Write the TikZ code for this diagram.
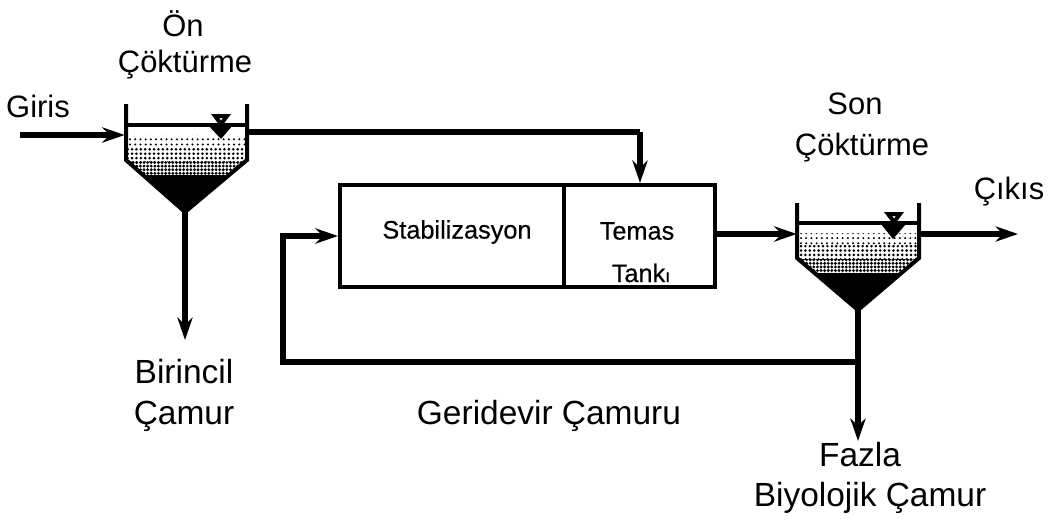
\documentclass[tikz,border=0pt]{standalone}
\usepackage{fontspec}
\setmainfont{Liberation Sans}
\usetikzlibrary{arrows.meta, patterns.meta, positioning}
\tikzstyle{pipe} = [line width=1.4mm, -{Stealth[length=5.6mm, width=3.8mm]}]
\tikzstyle{plainpipe} = [line width=1.4mm]
\tikzstyle{wall} = [line width=1mm]
\tikzstyle{tankbox} = [rectangle, draw=black, line width=1mm, minimum height=2.55cm, inner sep=0pt]
\tikzstyle{tanknode} = [rectangle, minimum width=3.05cm, minimum height=1cm, inner sep=0pt]
\tikzstyle{label} = [inner sep=0pt, font={\fontsize{22pt}{24}\selectfont}]
\tikzstyle{widelabel} = [inner sep=0pt, font={\fontsize{23.8pt}{24}\selectfont}]
\tikzstyle{tanklabel} = [inner sep=0pt, font={\fontsize{18pt}{20}\selectfont\addfontfeature{FakeBold=0.4}}]
\tikzstyle{dotslight} = [pattern={Dots[distance=1.3mm, radius=0.28mm]}, pattern color=black]
\tikzstyle{dotsmid} = [pattern={Dots[distance=1.1mm, radius=0.36mm]}, pattern color=black]
\tikzstyle{dotsdark} = [pattern={Dots[distance=0.9mm, radius=0.4mm]}, pattern color=black]
\tikzstyle{gauge} = [line width=1mm, draw=black]
\begin{document}
\begin{tikzpicture}[x=0.025cm, y=-0.025cm]
    \useasboundingbox (0,0) rectangle (1062,519);

    % settling tanks
    \node (first) [tanknode] at (186,135) {};
    \node (last) [tanknode] at (858,234) {};
    \coordinate (firstapex) at (185,212);
    \coordinate (lastapex) at (858,310);

    \begin{scope}
    \clip (126,125) -- (126,160) -- (firstapex) -- (247,160) -- (247,125) -- cycle;
    \fill [dotslight] (126,135) rectangle (247,147);
    \fill [dotsmid] (126,147) rectangle (247,161);
    \fill [dotsdark] (126,161) rectangle (247,175);
    \fill (126,175) rectangle (247,212);
    \end{scope}
    \draw [wall] (126,104) -- (126,160) -- (firstapex) -- (247,160) -- (247,104);
    \draw [line width=0.8mm] (126,125) -- (247,125);
    \draw [gauge] (215,116) -- (227,116) -- (221,124) -- cycle;
    \fill (208,125) -- (233,125) -- (221,139) -- cycle;

    \begin{scope}
    \clip (797,223) -- (797,258) -- (lastapex) -- (919,258) -- (919,223) -- cycle;
    \fill [dotslight] (797,233) rectangle (919,245);
    \fill [dotsmid] (797,245) rectangle (919,259);
    \fill [dotsdark] (797,259) rectangle (919,273);
    \fill (797,273) rectangle (919,310);
    \end{scope}
    \draw [wall] (797,203) -- (797,258) -- (lastapex) -- (919,258) -- (919,203);
    \draw [line width=0.8mm] (797,223) -- (919,223);
    \draw [gauge] (888,214) -- (900,214) -- (894,222) -- cycle;
    \fill (881,224) -- (906,224) -- (893,239) -- cycle;

    % basin
    \node (stab) [tankbox, minimum width=5.6cm] at (452,236) {};
    \node (temas) [tankbox, minimum width=3.75cm] at (639.5,236) {};

    \coordinate (inlet) at (20,135);
    \coordinate (corner) at (640,132);
    \coordinate (firstout) at (185,340);
    \coordinate (lastout) at (1018,234);
    \coordinate (branch) at (858,362);
    \coordinate (wasteout) at (858,441);
    \coordinate (returnlow) at (283,362);
    \coordinate (returnup) at (283,236);

    \draw [pipe] (inlet) -- (first.west);
    \draw [plainpipe] (247,132) -- (corner);
    \draw [pipe] (corner) -- (temas.north -| corner);
    \draw [pipe] (firstapex) -- (firstout);
    \draw [pipe] (temas.east |- last.west) -- (last.west);
    \draw [pipe] (last.east) -- (lastout);
    \draw [pipe] (lastapex) -- (wasteout);
    \draw [pipe] (branch) -- (returnlow) -- (returnup) -- (stab.west);

    \node (onlabel) [label] at (183,24) {Ön};
    \node (oncok) [label] at (185,65) {Çöktürme};
    \node (girislabel) [label] at (38,106) {Giris};
    \node (sonlabel) [label] at (855,104) {Son};
    \node (soncok) [label] at (862,148) {Çöktürme};
    \node (cikislabel) [label] at (1009,192) {Çıkıs};
    \node (stablabel) [tanklabel] at (457,232) {Stabilizasyon};
    \node (temaslabel) [tanklabel] at (637,231) {Temas};
    \node (tanklabel) [tanklabel] at (641,273) {Tank{\fontsize{13pt}{14}\selectfont ı}};
    \node (birincil) [widelabel] at (184,372) {Birincil};
    \node (birincilcamur) [widelabel] at (184,416) {Çamur};
    \node (geridevir) [widelabel] at (549,416) {Geridevir Çamuru};
    \node (fazla) [widelabel] at (860,455) {Fazla};
    \node (biyolojik) [widelabel] at (870,498) {Biyolojik Çamur};
\end{tikzpicture}
\end{document}
